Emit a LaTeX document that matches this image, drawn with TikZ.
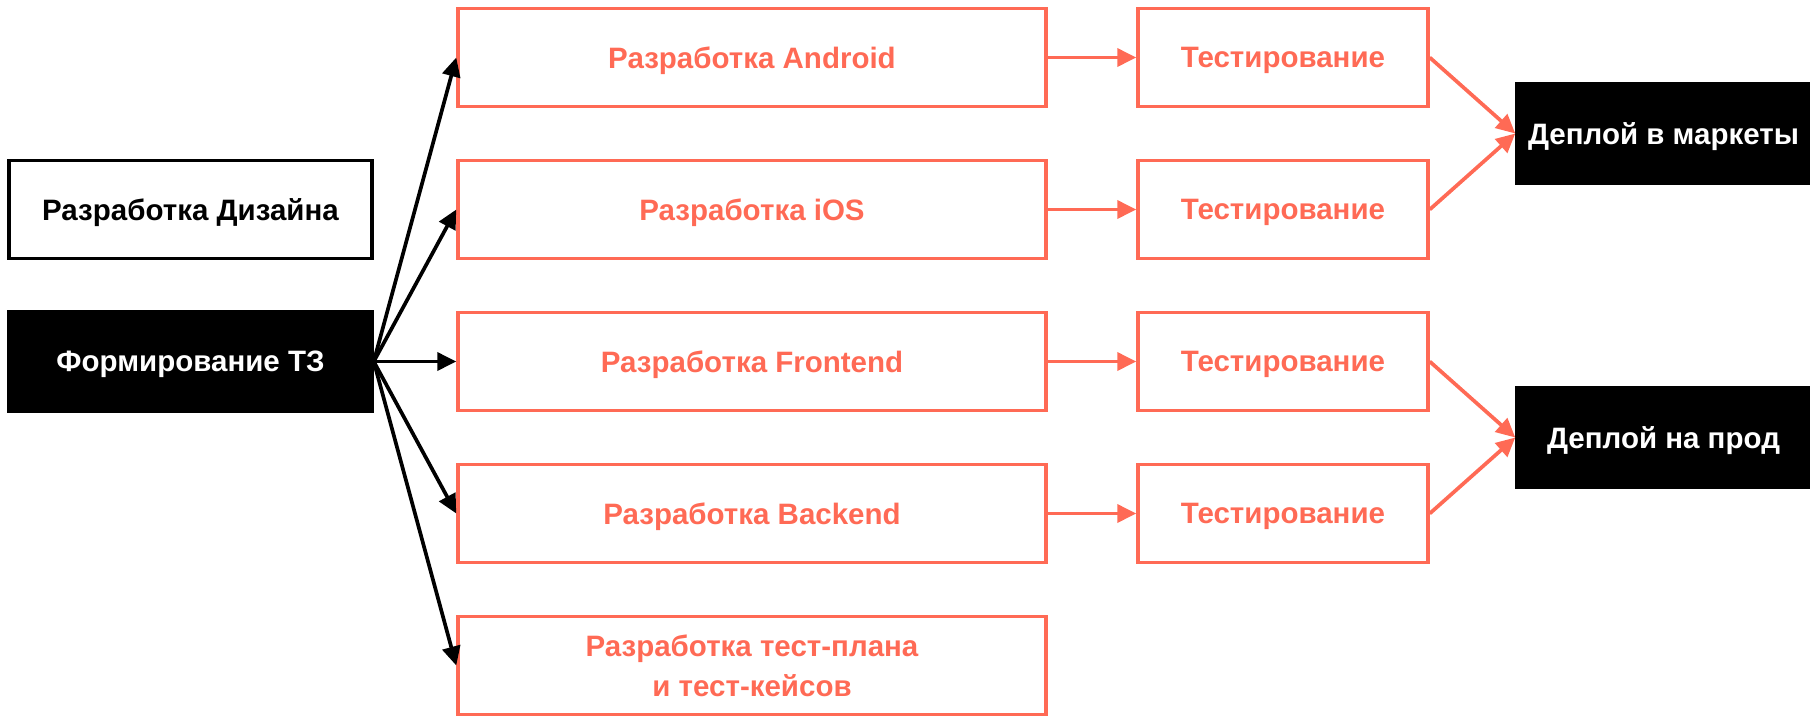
\documentclass[tikz,border=0pt]{standalone}
\usepackage{fontspec}
\setmainfont{Liberation Sans}
\usetikzlibrary{arrows.meta}
\definecolor{cred}{HTML}{FF6A55}
\tikzset{
  base/.style={rectangle, line width=3.5pt, inner sep=0pt, align=center, text depth=0pt,
    font=\fontsize{29.5}{40}\selectfont\bfseries},
  redbox/.style={base, draw=cred, text=cred, minimum width=588pt, minimum height=98pt},
  testbox/.style={base, draw=cred, text=cred, minimum width=290pt, minimum height=98pt},
  whitebox/.style={base, draw=black, text=black, minimum width=363pt, minimum height=98pt},
  blackbox/.style={base, draw=black, fill=black, text=white, minimum width=363pt, minimum height=99pt},
  deploybox/.style={base, draw=black, fill=black, text=white, minimum width=293pt, minimum height=100pt},
  blk/.style={line width=3.7pt, draw=black, -{Triangle[length=19pt,width=18pt]}},
  rda/.style={line width=3.7pt, draw=cred, -{Triangle[length=19pt,width=18pt]}},
}
\begin{document}
\begin{tikzpicture}[x=1pt,y=-1pt]
\useasboundingbox (0,0) rectangle (1810,716);
\node[whitebox] (design) at (190.5,209.5) {Разработка Дизайна};
\node[blackbox] (tz) at (190.5,361.5) {Формирование ТЗ};
\node[redbox] (android) at (752,57.5) {Разработка Android};
\node[redbox] (ios) at (752,209.5) {Разработка iOS};
\node[redbox] (front) at (752,361.5) {Разработка Frontend};
\node[redbox] (back) at (752,513.5) {Разработка Backend};
\node[redbox, text depth=] (plan) at (752,665.5) {Разработка тест-плана\\и тест-кейсов};
\node[testbox] (t1) at (1283,57.5) {Тестирование};
\node[testbox] (t2) at (1283,209.5) {Тестирование};
\node[testbox] (t3) at (1283,361.5) {Тестирование};
\node[testbox] (t4) at (1283,513.5) {Тестирование};
\node[deploybox] (mk) at (1663.5,133.5) {Деплой в маркеты};
\node[deploybox] (prod) at (1663.5,437.5) {Деплой на прод};
\foreach \n in {android,ios,front,back,plan}
  \draw[blk] (tz.east) -- (\n.west);
\draw[rda] (android.east) -- (t1.west);
\draw[rda] (ios.east) -- (t2.west);
\draw[rda] (front.east) -- (t3.west);
\draw[rda] (back.east) -- (t4.west);
\draw[rda] (t1.east) -- (mk.west);
\draw[rda] (t2.east) -- (mk.west);
\draw[rda] (t3.east) -- (prod.west);
\draw[rda] (t4.east) -- (prod.west);
\end{tikzpicture}
\end{document}
